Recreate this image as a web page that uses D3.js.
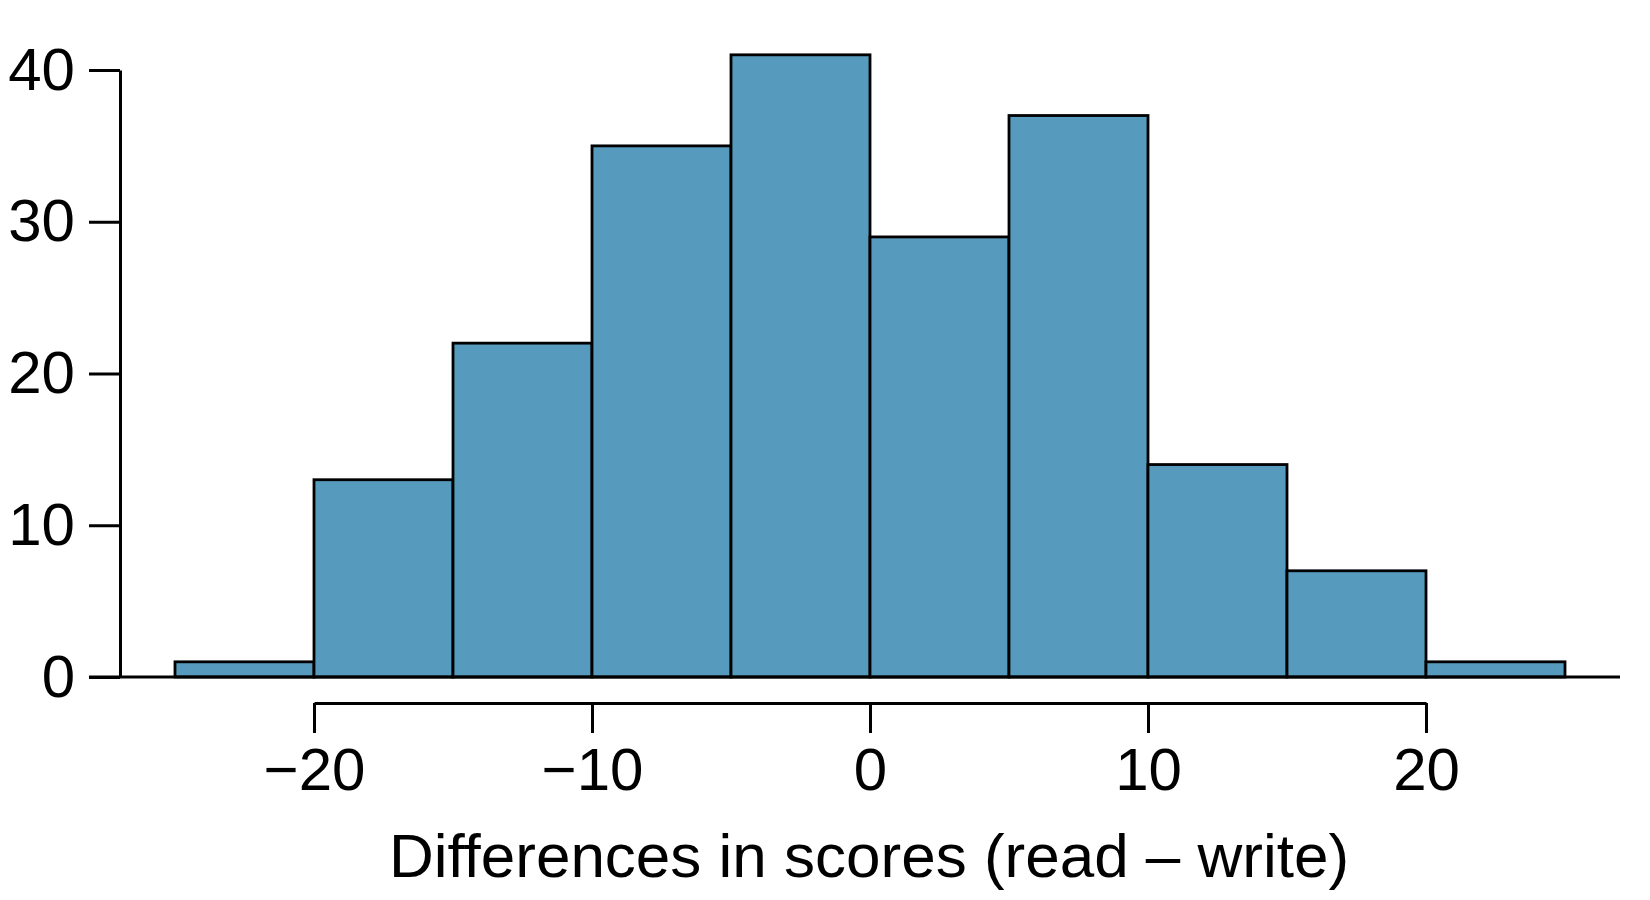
<!DOCTYPE html>
<html>
<head>
<meta charset="utf-8">
<script src="https://cdn.jsdelivr.net/npm/d3@7"></script>
<style>
  body { margin: 0; background: #fff; }
  text { font-family: "Liberation Sans", Arial, sans-serif; fill: #000; }
</style>
</head>
<body>
<svg width="1650" height="900"></svg>
<script>
// bins of width 5, read - write
const binStarts = [-25, -20, -15, -10, -5, 0, 5, 10, 15, 20]
const counts = [1, 13, 22, 35, 41, 29, 37, 14, 7, 1]
const xTicks = [-20, -10, 0, 10, 20]
const yTicks = [0, 10, 20, 30, 40]
const binWidth = 5

const svg = d3.select('svg')

const x = d3.scaleLinear().domain([-20, 20]).range([314, 1426])
const y = d3.scaleLinear().domain([0, 40]).range([677, 70])

const fmt = d => d < 0 ? '\u2212' + Math.abs(d) : String(d)

// bars
svg.append('g')
   .selectAll('rect')
   .data(binStarts.map((b, i) => ({start: b, count: counts[i]})))
   .enter()
   .append('rect')
   .attr('x', d => x(d.start))
   .attr('width', d => x(d.start + binWidth) - x(d.start))
   .attr('y', d => y(d.count))
   .attr('height', d => y(0) - y(d.count))
   .attr('fill', '#569BBD')
   .attr('stroke', '#000')
   .attr('stroke-width', 2.8)

// baseline
svg.append('line')
   .attr('x1', 89).attr('x2', 1620)
   .attr('y1', y(0)).attr('y2', y(0))
   .attr('stroke', '#000').attr('stroke-width', 3)

// y axis
const yAxis = svg.append('g')
   .attr('transform', 'translate(120,0)')
   .call(d3.axisLeft(y).tickValues(yTicks).tickSize(31).tickSizeOuter(0).tickPadding(14))
yAxis.selectAll('path, line').attr('stroke', '#000').attr('stroke-width', 3)
yAxis.selectAll('text').attr('font-size', 60).attr('font-family', '"Liberation Sans", Arial, sans-serif')

// x axis
const xAxis = svg.append('g')
   .attr('transform', 'translate(0,703)')
   .call(d3.axisBottom(x).tickValues(xTicks).tickFormat(fmt).tickSize(30).tickSizeOuter(0).tickPadding(14))
xAxis.selectAll('path, line').attr('stroke', '#000').attr('stroke-width', 3)
xAxis.selectAll('text').attr('font-size', 60).attr('font-family', '"Liberation Sans", Arial, sans-serif')

svg.append('text')
   .attr('x', 869)
   .attr('y', 877)
   .attr('text-anchor', 'middle')
   .attr('font-size', 62)
   .text('Differences in scores (read \u2013 write)')
</script>
</body>
</html>
